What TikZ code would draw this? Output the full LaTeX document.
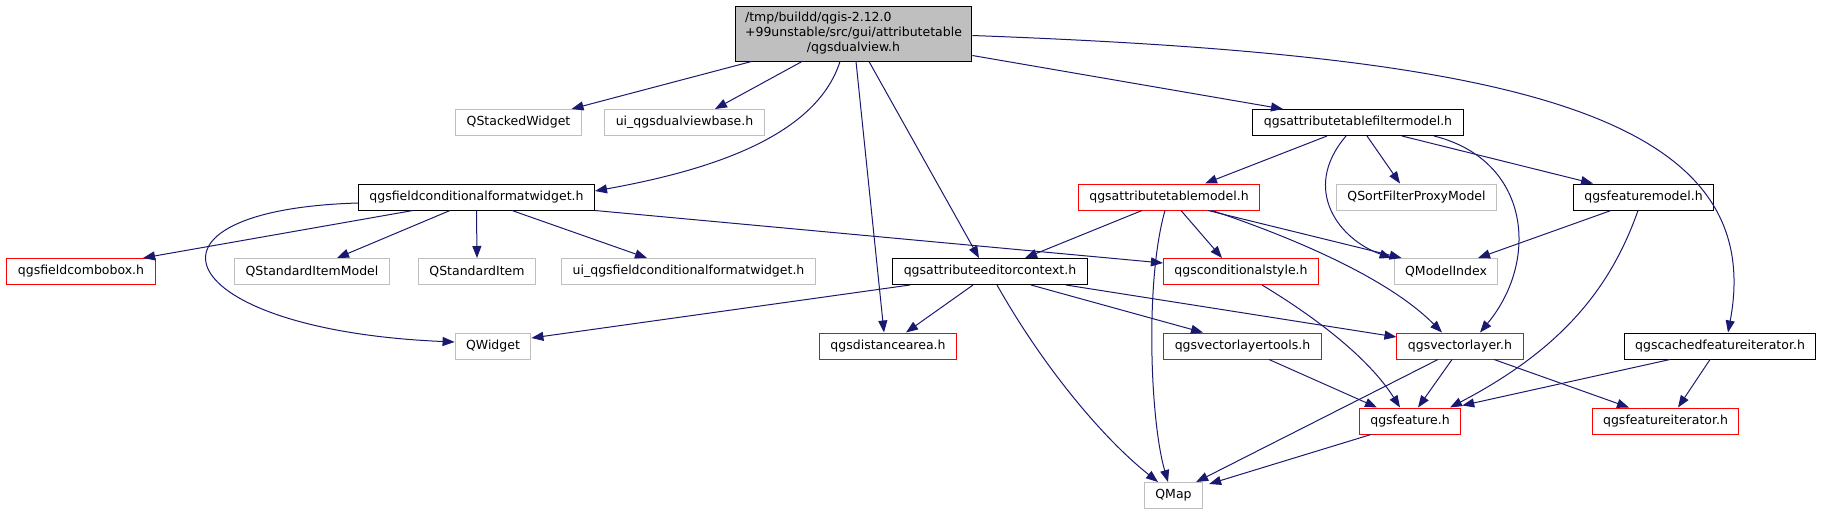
\documentclass[tikz,border=0pt]{standalone}
\usepackage{fontspec}
\setmainfont{DejaVu Sans}
\usepackage{tikz}
\usetikzlibrary{arrows.meta}
\definecolor{midnight}{RGB}{25,25,112}
\definecolor{lightgrey}{RGB}{191,191,191}

\begin{document}
\begin{tikzpicture}[x=1pt,y=-1pt,>={Triangle[length=12pt,width=9pt]},
                    font=\fontsize{12.5}{15}\selectfont]
  \tikzstyle{every node}=[fill=white,inner xsep=11pt,inner ysep=0pt,minimum height=26pt,line width=1pt]
  \tikzstyle{docbox}=[draw=black]
  \tikzstyle{redbox}=[draw=red]
  \tikzstyle{greybox}=[draw=lightgrey]
  \tikzstyle{rootbox}=[draw=black,fill=lightgrey,minimum height=55pt,inner xsep=10pt]
  \tikzstyle{dep}=[->,color=midnight,line width=1pt]

  \useasboundingbox (0,0) rectangle (1823,515);

  \node[rootbox] (0) at (853.5,33.5) {\begin{tabular}{@{}l@{}}/tmp/buildd/qgis-2.12.0\\+99unstable/src/gui/attributetable\\\multicolumn{1}{@{}c@{}}{/qgsdualview.h}\end{tabular}};

  \node[greybox] (1)  at (518.5,122.5) {QStackedWidget};
  \node[greybox] (2)  at (684.5,122.5) {ui\_qgsdualviewbase.h};
  \node[docbox]  (3)  at (1358,122.5)  {qgsattributetablefiltermodel.h};

  \node[docbox]  (4)  at (476.5,197)   {qgsfieldconditionalformatwidget.h};
  \node[redbox]  (5)  at (1169,197)    {qgsattributetablemodel.h};
  \node[greybox] (6)  at (1416.5,197)  {QSortFilterProxyModel};
  \node[docbox]  (7)  at (1643.5,197)  {qgsfeaturemodel.h};

  \node[redbox]  (8)  at (81,271.5)    {qgsfieldcombobox.h};
  \node[greybox] (9)  at (312,271.5)   {QStandardItemModel};
  \node[greybox] (10) at (477,271.5)   {QStandardItem};
  \node[greybox] (11) at (688.5,271.5) {ui\_qgsfieldconditionalformatwidget.h};
  \node[docbox]  (12) at (990,271.5)   {qgsattributeeditorcontext.h};
  \node[redbox]  (13) at (1241,271.5)  {qgsconditionalstyle.h};
  \node[greybox] (14) at (1446,271.5)  {QModelIndex};

  \node[greybox] (15) at (493,346)     {QWidget};
  \node[redbox]  (16) at (888,346)     {qgsdistancearea.h};
  \node[redbox]  (17) at (1242.5,346)  {qgsvectorlayertools.h};
  \node[redbox]  (18) at (1460,346)    {qgsvectorlayer.h};
  \node[docbox]  (19) at (1720,346)    {qgscachedfeatureiterator.h};

  \node[redbox]  (20) at (1410,421)    {qgsfeature.h};
  \node[redbox]  (21) at (1665.5,421)  {qgsfeatureiterator.h};

  \node[greybox] (22) at (1173.5,495.5) {QMap};

  \path[dep] ([xshift=-102pt]0.south) edge ([xshift=53pt]1.north)
             ([xshift=-51.5pt]0.south) edge ([xshift=30.5pt]2.north)
             ([xshift=2.5pt]0.south) edge ([xshift=-4pt]16.north)
             ([xshift=15.5pt]0.south) edge ([xshift=-11pt]12.north)
             ([yshift=-22pt]0.east) edge ([xshift=-75pt]3.north);
  \draw[dep] ([xshift=-13.5pt]0.south) .. controls (815,140) and (700,172) .. ([yshift=6pt]4.east);
  \draw[dep] ([yshift=-2pt]0.east) .. controls (1500,55) and (1770,110) .. ([xshift=8pt]19.north);

  \path[dep] ([xshift=-63.5pt]4.south) edge ([xshift=62pt]8.north)
             ([xshift=-26.5pt]4.south) edge ([xshift=25pt]9.north)
             (4.south) edge (10.north)
             ([xshift=35.5pt]4.south) edge ([xshift=-41.5pt]11.north)
             (4.south east) edge ([yshift=8.5pt]13.west);
  \draw[dep] ([yshift=-6pt]4.west) .. controls (120,210) and (170,330) .. ([yshift=4pt]15.west);

  \path[dep] ([xshift=-31pt]3.south) edge ([xshift=36pt]5.north)
             ([xshift=9pt]3.south) edge ([xshift=-16.5pt]6.north)
             ([xshift=44pt]3.south) edge ([xshift=-50.5pt]7.north);
  \draw[dep] ([xshift=-12pt]3.south) .. controls (1300,190) and (1340,240) .. ([xshift=-2pt]14.north west);
  \draw[dep] ([xshift=76pt]3.south) .. controls (1530,160) and (1540,260) .. ([xshift=20pt]18.north);

  \path[dep] ([xshift=-27pt]5.south) edge ([xshift=35pt]12.north)
             ([xshift=12pt]5.south) edge ([xshift=-19pt]13.north)
             ([xshift=39pt]5.south) edge ([xshift=8pt]14.north west);
  \draw[dep] ([xshift=-4pt]5.south) .. controls (1145,280) and (1150,420) .. ([xshift=-5.5pt]22.north);
  \draw[dep] ([xshift=43pt]5.south) .. controls (1300,240) and (1390,280) .. ([xshift=-18pt]18.north);

  \path[dep] ([xshift=-32.5pt]7.south) edge ([xshift=32pt]14.north);
  \draw[dep] ([xshift=-5.5pt]7.south) .. controls (1610,290) and (1560,350) .. ([xshift=40pt]20.north);

  \path[dep] ([xshift=-80pt]12.south) edge ([yshift=8pt]15.east)
             ([xshift=-17pt]12.south) edge ([xshift=18pt]16.north)
             ([xshift=41pt]12.south) edge ([xshift=-39.5pt]17.north)
             ([xshift=76pt]12.south) edge ([yshift=9pt]18.west);
  \draw[dep] ([xshift=7pt]12.south) .. controls (1045,370) and (1105,440) .. ([xshift=-15.5pt]22.north);

  \draw[dep] ([xshift=21pt]13.south) .. controls (1320,320) and (1370,360) .. ([xshift=-10pt]20.north);

  \path[dep] ([xshift=26.5pt]17.south) edge ([xshift=-33pt]20.north)
             ([xshift=-8pt]18.south) edge ([xshift=8pt]20.north)
             ([xshift=-22pt]18.south) edge ([xshift=-7pt]22.north east)
             ([xshift=34pt]18.south) edge ([xshift=-36.5pt]21.north)
             ([xshift=-50pt]19.south) edge ([xshift=1pt,yshift=2pt]20.north east)
             ([xshift=-10pt]19.south) edge ([xshift=12.5pt]21.north)
             ([xshift=-39pt]20.south) edge ([xshift=6pt,yshift=-2pt]22.north east);

\end{tikzpicture}
\end{document}
